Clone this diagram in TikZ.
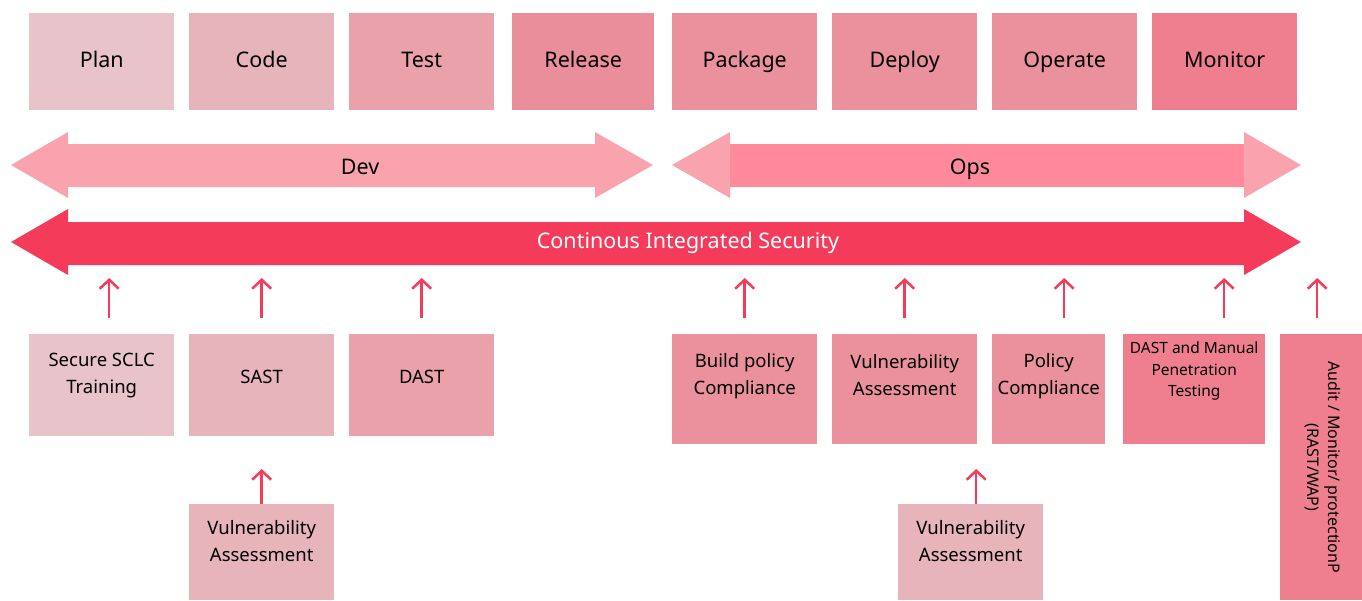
\documentclass[tikz,border=0pt]{standalone}
\usepackage{fontspec}
\setmainfont{Noto Sans}
\usepackage{tikz}
\usetikzlibrary{arrows.meta}
\usetikzlibrary{positioning}

\definecolor{planpink}{HTML}{E8C3CA}
\definecolor{codepink}{HTML}{E8B4BC}
\definecolor{testpink}{HTML}{EAA1AA}
\definecolor{relpink}{HTML}{EB8E9C}
\definecolor{opspink}{HTML}{EB919E}
\definecolor{monpink}{HTML}{EF7F8F}
\definecolor{devband}{HTML}{F9A3AF}
\definecolor{opsband}{HTML}{FF8A9B}
\definecolor{secred}{HTML}{F43C5A}

\begin{document}
\begin{tikzpicture}[
            x=1pt, y=-1pt,
            stage/.style={rectangle, anchor=north west, inner sep=0pt,
                          minimum width=145pt, minimum height=97pt,
                          text height=16pt, text depth=4.4pt,
                          font=\fontsize{21.5}{26}\selectfont},
            tool/.style={rectangle, anchor=north west, inner sep=0pt},
            boxtext/.style={align=center, font=\fontsize{18.5}{27}\selectfont},
            bandtext/.style={inner sep=0pt, text height=16pt, text depth=4.4pt,
                             font=\fontsize{21.5}{26}\selectfont},
            riser/.style={draw=secred, line width=2.5pt,
                          -{Straight Barb[length=9pt, width=19pt]}},
        ]

        \useasboundingbox (0,0) rectangle (1362,600);

        % Stages (top row)
        \node[stage, fill=planpink] (plan) at (29,13) {Plan};
        \node[stage, fill=codepink] (code) at (189,13) {Code};
        \node[stage, fill=testpink] (test) at (349,13) {Test};
        \node[stage, fill=relpink, minimum width=142pt] (release) at (512,13) {Release};
        \node[stage, fill=opspink] (package) at (672,13) {Package};
        \node[stage, fill=opspink] (deploy) at (832,13) {Deploy};
        \node[stage, fill=opspink] (operate) at (992,13) {Operate};
        \node[stage, fill=monpink] (monitor) at (1152,13) {Monitor};

        % Dev band
        \fill[devband] (11,165) -- (68,132) -- (68,144) -- (595,144) -- (595,132)
            -- (653,165) -- (595,198) -- (595,187) -- (68,187) -- (68,198) -- cycle;
        \node[bandtext] (dev) at (360,168.5) {Dev};

        % Ops band (heads lighter than the shaft)
        \fill[devband] (672,165) -- (730,132) -- (730,144) -- (1244,144) -- (1244,132)
            -- (1301,165) -- (1244,198) -- (1244,187) -- (730,187) -- (730,198) -- cycle;
        \fill[opsband] (730,144) rectangle (1244,187);
        \node[bandtext] (ops) at (970,168.5) {Ops};

        % Continous integrated security band
        \fill[secred] (11,242) -- (68,209) -- (68,222) -- (1244,222) -- (1244,209)
            -- (1301,242) -- (1244,275) -- (1244,265) -- (68,265) -- (68,275) -- cycle;
        \node[bandtext, text=white] (security) at (688,242.5) {Continous Integrated Security};

        % Security activities (dev side)
        \node[tool, fill=planpink, minimum width=145pt, minimum height=102pt] (secure) at (29,334) {};
        \node[boxtext] at ([yshift=-42pt]secure.north) {Secure SCLC\\Training};
        \node[tool, fill=codepink, minimum width=145pt, minimum height=102pt] (sast) at (189,334) {};
        \node[boxtext] at ([yshift=-43pt]sast.north) {SAST};
        \node[tool, fill=testpink, minimum width=145pt, minimum height=102pt] (dast) at (349,334) {};
        \node[boxtext] at ([yshift=-43pt]dast.north) {DAST};
        \node[tool, fill=codepink, minimum width=145pt, minimum height=96pt] (vulnsast) at (189,504) {};
        \node[boxtext] at ([yshift=-37pt]vulnsast.north) {Vulnerability\\Assessment};

        % Security activities (ops side)
        \node[tool, fill=opspink, minimum width=145pt, minimum height=110pt] (buildpol) at (672,334) {};
        \node[boxtext] at ([yshift=-42pt]buildpol.north) {Build policy\\Compliance};
        \node[tool, fill=opspink, minimum width=145pt, minimum height=110pt] (vulnops) at (832,334) {};
        \node[boxtext] at ([yshift=-41pt]vulnops.north) {Vulnerability\\Assessment};
        \node[tool, fill=opspink, minimum width=113pt, minimum height=110pt] (policy) at (992,334) {};
        \node[boxtext] at ([yshift=-42pt]policy.north) {Policy\\Compliance};
        \node[tool, fill=monpink, minimum width=142pt, minimum height=110pt] (dastman) at (1123,334) {};
        \node[boxtext, font=\fontsize{15.5}{21.5}\selectfont] at ([yshift=-37pt]dastman.north)
            {DAST and Manual\\Penetration\\Testing};
        \node[tool, fill=monpink, minimum width=82pt, minimum height=266pt] (audit) at (1280,334) {};
        \node[boxtext, rotate=-90, font=\fontsize{16}{21}\selectfont] at ([xshift=2pt]audit.center)
            {Audit / Monitor/ protectionP\\(RAST/WAP)};
        \node[tool, fill=codepink, minimum width=145pt, minimum height=96pt] (vulndeploy) at (898,504) {};
        \node[boxtext] at ([yshift=-37pt]vulndeploy.north) {Vulnerability\\Assessment};

        % Risers into the security band
        \draw[riser] ([xshift=7.5pt,yshift=16pt]secure.north) -- ++(0,-40);
        \draw[riser] ([yshift=16pt]sast.north) -- ++(0,-40);
        \draw[riser] ([yshift=16pt]dast.north) -- ++(0,-40);
        \draw[riser] ([yshift=16pt]buildpol.north) -- ++(0,-40);
        \draw[riser] ([yshift=16pt]vulnops.north) -- ++(0,-40);
        \draw[riser] ([xshift=15.5pt,yshift=16pt]policy.north) -- ++(0,-40);
        \draw[riser] ([xshift=30pt,yshift=16pt]dastman.north) -- ++(0,-40);
        \draw[riser] ([xshift=-4pt,yshift=16pt]audit.north) -- ++(0,-40);

        % Risers from the lower assessments
        \draw[riser] (vulnsast.north) -- ++(0,-35);
        \draw[riser] ([xshift=5.5pt]vulndeploy.north) -- ++(0,-35);

        \end{tikzpicture}
\end{document}
